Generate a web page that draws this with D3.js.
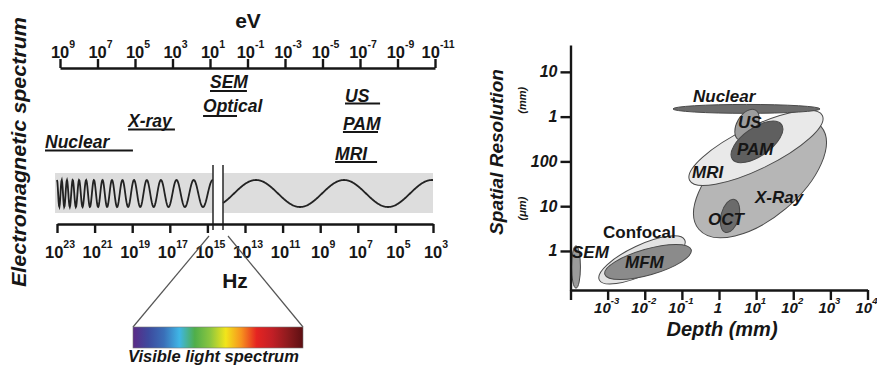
<!DOCTYPE html>
<html><head><meta charset="utf-8">
<script src="https://cdn.jsdelivr.net/npm/d3@7"></script>
<style>
body{margin:0;background:#fff}
svg{display:block}
text{font-family:"Liberation Sans",Arial,Helvetica,sans-serif;font-weight:bold;fill:#161616}
</style>
</head><body>
<svg id="c" width="877" height="366"></svg>
<script>
// ---------------- DATA ----------------
// Left panel: electromagnetic spectrum axes (exponents of 10)
const evExponents = [9, 7, 5, 3, 1, -1, -3, -5, -7, -9, -11];
const hzExponents = [23, 21, 19, 17, 15, 13, 11, 9, 7, 5, 3];
// Imaging modality bands on the eV scale (exponents)
const bandNames  = ["Nuclear", "X-ray", "SEM", "Optical", "US", "PAM", "MRI"];
const bandEvFrom = [9.8, 5.37, 1.0, 1.37, -6.2, -6.09, -5.67];
const bandEvTo   = [5.11, 2.87, -0.97, -0.44, -8.07, -7.96, -7.91];
// Visible light colours
const visibleColors = ["#5b2a86", "#3d4a9e", "#3a6fb8", "#3fb6e6", "#4fae4a", "#8cc63f", "#f2e51b", "#f7931e", "#e52421", "#c21f26", "#8e1b1e", "#5c0f12"];

// Right panel: depth (mm, log10) vs spatial resolution (um, log10)
const depthTickExp = [-4, -3, -2, -1, 0, 1, 2, 3, 4];
const resTickExp   = [4, 3, 2, 1, 0];
const resTickLabels = ["10", "1", "100", "10", "1"];
const modalities = ["X-Ray", "MRI", "Nuclear", "US", "PAM", "OCT", "Confocal", "MFM", "SEM"];
const depthExp   = [1.104, 0.996, 0.741, 0.754, 1.023, 0.296, -2.074, -1.912, -3.852];
const resExp     = [1.631, 2.302, 3.173, 2.816, 2.436, 0.782, -0.201, -0.246, -0.358];
const majorDec   = [2.15, 1.99, 1.98, 0.46, 0.81, 0.46, 1.27, 1.21, 0.57];
const minorDec   = [1.08, 0.57, 0.12, 0.27, 0.38, 0.24, 0.40, 0.35, 0.12];
const tiltDeg    = [-40, -26, 0, -60, -35, -75, -25, -16, -90];
const labelDepthExp = [0.970, -0.727, -0.700, 0.512, 0.485, -0.296, -3.125, -2.532, -3.960];
const labelResExp   = [1.073, 1.631, 3.330, 2.749, 2.145, 0.581, 0.291, -0.380, -0.156];

// ---------------- STYLE / LAYOUT ----------------
const fills = {"X-Ray":"#b6b6b6","MRI":"#e9e9e9","Nuclear":"#6c6c6c","US":"#9d9d9d","PAM":"#5f5f5f",
               "OCT":"#6b6b6b","Confocal":"#e3e3e3","MFM":"#8b8b8b","SEM":"#9b9b9b"};
const bandBaseline = {"Nuclear":148,"X-ray":127,"SEM":88,"Optical":112,"US":102,"PAM":130,"MRI":160};
const bandUnder = {"Nuclear":150.5,"X-ray":129.5,"SEM":91,"Optical":116,"US":103.5,"PAM":132,"MRI":162};
const ink = "#161616";

const svg = d3.select("#c");

function supLabel(g, x, y, base, sup, fs, sfs, dy) {
  const t = g.append("text").attr("x", x).attr("y", y).attr("text-anchor", "middle")
    .attr("font-size", fs);
  t.append("tspan").text(base);
  if (sup !== null) t.append("tspan").attr("dy", -dy).attr("font-size", sfs).text(sup);
  return t;
}

// ============ LEFT PANEL ============
const L = svg.append("g");
const ev = d3.scaleLinear().domain([9, -11]).range([60, 435]);
const hz = d3.scaleLinear().domain([23, 3]).range([57, 433]);

// eV axis
const evAx = L.append("g").attr("transform", "translate(0,68)")
  .call(d3.axisTop(ev).tickValues(evExponents).tickSize(9).tickSizeOuter(0).tickFormat(""));
evAx.selectAll("path,line").attr("stroke", ink).attr("stroke-width", 2.4);
evExponents.forEach(e => supLabel(L, ev(e) + 3, 57.5, "10", String(e), 16.5, 10.5, 10));
L.append("text").attr("x", 248).attr("y", 28).attr("text-anchor", "middle").attr("font-size", 21).text("eV");

// bands
bandNames.forEach((n, i) => {
  const x0 = ev(bandEvFrom[i]), x1 = ev(bandEvTo[i]);
  L.append("text").attr("x", x0).attr("y", bandBaseline[n]).attr("font-size", 17.5)
    .attr("font-style", "italic").text(n);
  L.append("line").attr("x1", x0).attr("x2", x1).attr("y1", bandUnder[n]).attr("y2", bandUnder[n])
    .attr("stroke", ink).attr("stroke-width", 2);
});

// wave panel
L.append("rect").attr("x", hz(23) - 2).attr("width", hz(3) - hz(23) + 2).attr("y", 173).attr("height", 40).attr("fill", "#dddddd");
// break gap
const bx0 = 213, bx1 = 223;
L.append("rect").attr("x", bx0).attr("width", bx1 - bx0).attr("y", 166).attr("height", 56).attr("fill", "#fff");

// left chirp (decorative)
const c0 = 193.5, amp = 13.5;
const xa = hz(23), xb = bx0, p0 = 4.5, p1 = 20, kk = (p1 - p0) / (xb - xa);
const chirp = d3.range(xa, xb + 0.01, 0.4).map(x => {
  const ph = 2 * Math.PI / kk * Math.log((p0 + kk * (x - xa)) / p0);
  return [x, c0 - amp * Math.cos(ph)];
});
const slow = d3.range(bx1, hz(3) + 0.01, 0.5).map(x => [x, c0 + amp * Math.cos(2 * Math.PI * (x - 212) / 88)]);
const ln = d3.line();
L.append("path").attr("d", ln(chirp)).attr("fill", "none").attr("stroke", "#222").attr("stroke-width", 1.8);
L.append("path").attr("d", ln(slow)).attr("fill", "none").attr("stroke", "#222").attr("stroke-width", 1.8);
[bx0, bx1].forEach(x => L.append("line").attr("x1", x).attr("x2", x).attr("y1", 165).attr("y2", 230)
  .attr("stroke", "#333").attr("stroke-width", 1.6));

// Hz axis
const hzAx = L.append("g").attr("transform", "translate(0,224)")
  .call(d3.axisBottom(hz).tickValues(hzExponents).tickSize(9).tickSizeOuter(0).tickFormat(""));
hzAx.selectAll("path,line").attr("stroke", ink).attr("stroke-width", 2.4);
hzExponents.forEach(e => supLabel(L, hz(e) + 3, 258, "10", String(e), 16.5, 10.5, 10));
L.append("text").attr("x", 235).attr("y", 288).attr("text-anchor", "middle").attr("font-size", 21).text("Hz");

// zoom-out triangle to visible spectrum
const barX0 = 133, barX1 = 303, barY0 = 327, barY1 = 348;
L.append("line").attr("x1", 209).attr("y1", 236).attr("x2", barX0).attr("y2", barY0).attr("stroke", "#555").attr("stroke-width", 1.2);
L.append("line").attr("x1", 228).attr("y1", 236).attr("x2", barX1).attr("y2", barY0).attr("stroke", "#555").attr("stroke-width", 1.2);
const grad = svg.append("defs").append("linearGradient").attr("id", "vis");
visibleColors.forEach((c, i) => grad.append("stop").attr("offset", (i / (visibleColors.length - 1))).attr("stop-color", c));
L.append("rect").attr("x", barX0).attr("y", barY0).attr("width", barX1 - barX0).attr("height", barY1 - barY0)
  .attr("fill", "url(#vis)").attr("stroke", "#777").attr("stroke-width", 0.6);
L.append("text").attr("x", 128).attr("y", 362).attr("font-size", 16.5).attr("font-style", "italic").text("Visible light spectrum");

// side title
L.append("text").attr("transform", "translate(26,152) rotate(-90)").attr("text-anchor", "middle")
  .attr("font-size", 20).attr("font-style", "italic").attr("textLength", 270).attr("lengthAdjust", "spacingAndGlyphs")
  .text("Electromagnetic spectrum");

// ============ RIGHT PANEL ============
const R = svg.append("g");
const x = d3.scaleLinear().domain([-4, 4]).range([570.5, 867.5]);
const y = d3.scaleLinear().domain([-0.872, 4.6]).range([290, 45]);
const decX = x(1) - x(0);

modalities.forEach((m, i) => {
  R.append("ellipse")
    .attr("transform", `translate(${x(depthExp[i])},${y(resExp[i])}) rotate(${tiltDeg[i]})`)
    .attr("rx", majorDec[i] * decX).attr("ry", minorDec[i] * decX)
    .attr("fill", fills[m]).attr("stroke", "#4a4a4a").attr("stroke-width", 1);
});
modalities.forEach((m, i) => {
  R.append("text").attr("x", x(labelDepthExp[i])).attr("y", y(labelResExp[i]))
    .attr("font-size", 17).attr("font-style", m === "Confocal" ? "normal" : "italic").text(m);
});

// axes
const xAx = R.append("g").attr("transform", `translate(0,${y(-0.872)})`)
  .call(d3.axisBottom(x).tickValues(depthTickExp).tickSize(10).tickSizeOuter(0).tickFormat(""));
xAx.selectAll("path,line").attr("stroke", ink).attr("stroke-width", 2.4);
const yAx = R.append("g").attr("transform", `translate(${x(-4)},0)`)
  .call(d3.axisLeft(y).tickValues(resTickExp).tickSize(10).tickSizeOuter(0).tickFormat(""));
yAx.selectAll("path,line").attr("stroke", ink).attr("stroke-width", 2.4);

depthTickExp.slice(1).forEach(e => {
  const t = supLabel(R, x(e) - 1, 313, e === 0 ? "1" : "10", e === 0 ? null : String(e), 15, 9.5, 9);
  t.attr("font-style", "italic");
});
resTickExp.forEach((e, i) => {
  R.append("text").attr("x", x(-4) - 13).attr("y", y(e) + 5.5).attr("text-anchor", "end")
    .attr("font-size", 16).attr("font-style", "italic").text(resTickLabels[i]);
});
R.append("text").attr("x", 722).attr("y", 336).attr("text-anchor", "middle").attr("font-size", 20)
  .attr("font-style", "italic").text("Depth (mm)");
R.append("text").attr("transform", "translate(503,152) rotate(-90)").attr("text-anchor", "middle")
  .attr("font-size", 19).attr("font-style", "italic").text("Spatial Resolution");
R.append("text").attr("transform", `translate(526,${(y(4) + y(3)) / 2 + 6}) rotate(-90)`).attr("text-anchor", "middle")
  .attr("font-size", 11).attr("font-style", "italic").text("(mm)");
R.append("text").attr("transform", `translate(526,${(y(1) + y(0)) / 2 - 20}) rotate(-90)`).attr("text-anchor", "middle")
  .attr("font-size", 11).attr("font-style", "italic").text("(μm)");
</script>
</body></html>
